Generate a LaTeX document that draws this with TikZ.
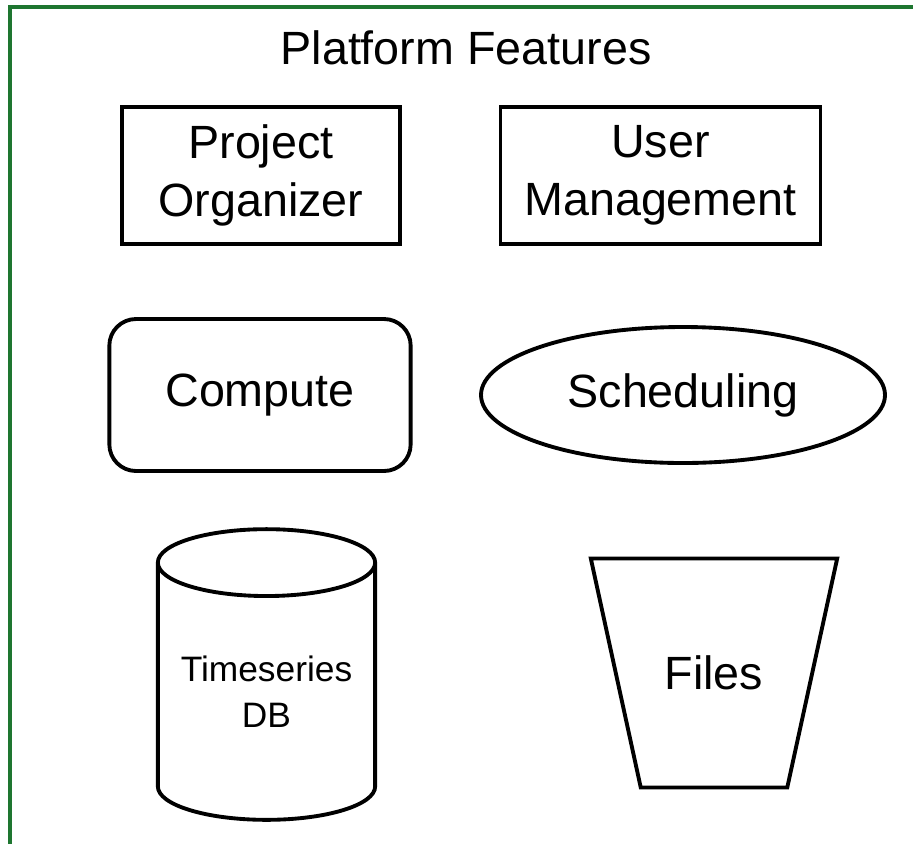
\documentclass[tikz,border=0pt]{standalone}
\usepackage{fontspec}
\setmainfont{Liberation Sans}
\usepackage{tikz}
\usetikzlibrary{shapes.geometric}
\definecolor{framegreen}{RGB}{30,118,48}

\begin{document}
\begin{tikzpicture}[x=0.75pt,y=-0.75pt,
						bignode/.style={draw=black, line width=2.9pt, align=center, inner sep=0pt, font=\fontsize{35}{43.5}\selectfont},
						boxnode/.style={bignode, rectangle},
						roundbox/.style={bignode, rectangle, rounded corners=20pt},
						ovalnode/.style={bignode, ellipse},
						dbnode/.style={bignode, cylinder, shape border rotate=90, aspect=0.39, font=\fontsize{26.5}{34.5}\selectfont},
						bucketnode/.style={bignode, trapezium, shape border rotate=180, trapezium left angle=77.7, trapezium right angle=77.7, inner xsep=18pt, inner ysep=73pt},
						]
						\useasboundingbox (0,0) rectangle (913,843);
						%Frame
						\draw[framegreen, line width=3.4pt] (10,7) rectangle (930,846);
						%Nodes
						\node[font=\fontsize{35}{43.5}\selectfont]	(title)		at	(466,48)	{Platform Features};
						\node[boxnode, minimum width=208pt, minimum height=103pt]	(proj)	at	(261,175.5)	{Project\\Organizer};
						\node[boxnode, minimum width=240pt, minimum height=103pt]	(users)	at	(660.5,175.5)	{User\\Management};
						\node[roundbox, minimum width=226pt, minimum height=114pt]	(compute)	at	(260,395)	{Compute};
						\node[ovalnode, minimum width=303pt, minimum height=102pt]	(sched)	at	(683,395)	{Scheduling};
						\node[dbnode, minimum width=163pt, minimum height=218pt, anchor=shape center]	(tsdb)	at	(266.5,674.5)	{Timeseries\\DB};
						\node[bucketnode]	(files)	at	(714,673)	{Files};
\end{tikzpicture}
\end{document}
